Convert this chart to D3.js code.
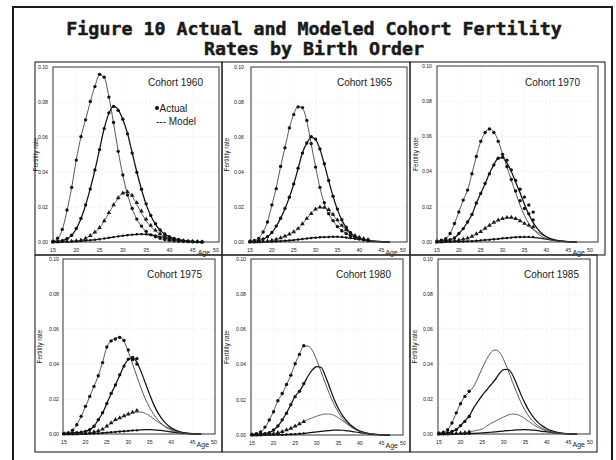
<!DOCTYPE html>
<html><head><meta charset="utf-8">
<script src="https://cdn.jsdelivr.net/npm/d3@7"></script>
<style>body{margin:0;background:#fff}svg{display:block}</style>
</head><body>
<svg id="c" width="616" height="460"></svg>
<script>
// ---------------- data ----------------
const ages = [15,16,17,18,19,20,21,22,23,24,25,26,27,28,29,30,31,32,33,34,35,36,37,38,39,40,41,42,43,44,45,46,47];
const xTicks = [15,20,25,30,35,40,45,50];
const yTicks = [0,0.02,0.04,0.06,0.08,0.10];
const yTickLabels = ["0.00","0.02","0.04","0.06","0.08","0.10"];
const cohorts = ["1960","1965","1970","1975","1980","1985"];
const lastObservedAge = [47,42,37,32,27,22];

// model curves, birth orders 1-4, ages 15..47
const model1960 = [
 [0.0005,0.002,0.007,0.018,0.031,0.047,0.060,0.070,0.080,0.089,0.0955,0.094,0.083,0.068,0.052,0.038,0.027,0.019,0.013,0.009,0.006,0.004,0.003,0.002,0.0014,0.001,0.0007,0.0005,0.0003,0.0002,0.0001,0.0001,0],
 [0.0001,0.0003,0.0008,0.0018,0.0038,0.0076,0.0133,0.021,0.0305,0.041,0.053,0.065,0.0735,0.0777,0.0755,0.070,0.062,0.051,0.040,0.030,0.0215,0.015,0.0102,0.0068,0.0045,0.003,0.002,0.0013,0.0008,0.0005,0.0003,0.0002,0.0001],
 [0,0.0001,0.0002,0.0003,0.0004,0.0006,0.001,0.002,0.0035,0.0055,0.008,0.012,0.0165,0.021,0.025,0.028,0.0285,0.026,0.0215,0.0165,0.012,0.0088,0.0063,0.0045,0.0032,0.0022,0.0015,0.001,0.0007,0.0004,0.0003,0.0002,0.0001],
 [0,0.0001,0.0001,0.0002,0.0003,0.0004,0.0006,0.0008,0.001,0.0013,0.0016,0.002,0.0024,0.0028,0.0032,0.0036,0.0039,0.0042,0.0044,0.0045,0.0044,0.0041,0.0036,0.003,0.0025,0.0019,0.0014,0.0009,0.0006,0.0004,0.0002,0.0001,0]
];
const model1965 = [
 [0.0004,0.0009,0.0022,0.0058,0.0115,0.021,0.031,0.043,0.054,0.065,0.073,0.0775,0.0765,0.069,0.056,0.043,0.031,0.022,0.016,0.0122,0.0088,0.0065,0.0048,0.0035,0.0025,0.0017,0.0012,0.0008,0.0005,0.0003,0.0002,0.0001,0],
 [0.0001,0.0003,0.0008,0.0016,0.003,0.0053,0.009,0.0135,0.019,0.0255,0.033,0.042,0.051,0.0565,0.0598,0.0585,0.053,0.0445,0.035,0.026,0.0185,0.0125,0.0082,0.0052,0.0032,0.002,0.0012,0.0007,0.0004,0.0002,0.0001,0.0001,0],
 [0,0,0.0001,0.0003,0.0005,0.0009,0.0015,0.0023,0.0033,0.0045,0.0057,0.0076,0.0102,0.0135,0.0163,0.0187,0.0198,0.0196,0.0182,0.0155,0.0122,0.009,0.0066,0.0047,0.0034,0.0025,0.0018,0.0012,0.0008,0.0005,0.0003,0.0002,0.0001],
 [0,0,0.0001,0.0001,0.0002,0.0002,0.0003,0.0005,0.0007,0.0009,0.0011,0.0014,0.0017,0.002,0.0023,0.0025,0.0027,0.0028,0.0029,0.003,0.003,0.0028,0.0025,0.0022,0.0018,0.0015,0.0011,0.0008,0.0005,0.0004,0.0002,0.0001,0]
];
const model1970 = [
 [0.0005,0.001,0.002,0.0048,0.0105,0.0171,0.0238,0.0295,0.039,0.0486,0.057,0.062,0.0644,0.0625,0.0575,0.050,0.0425,0.035,0.028,0.021,0.015,0.0105,0.0072,0.0048,0.0031,0.002,0.0012,0.0007,0.0004,0.0002,0.0001,0.0001,0],
 [0.0001,0.0005,0.0008,0.0013,0.0023,0.0048,0.0076,0.0114,0.0156,0.022,0.0276,0.033,0.039,0.0438,0.0477,0.048,0.045,0.040,0.034,0.028,0.0215,0.0158,0.011,0.0074,0.0048,0.003,0.0018,0.0011,0.0006,0.0003,0.0002,0.0001,0],
 [0,0.0001,0.0002,0.0004,0.0007,0.0011,0.0016,0.0022,0.0032,0.0045,0.006,0.0076,0.0095,0.011,0.0124,0.0133,0.0138,0.0139,0.0134,0.0122,0.0106,0.0088,0.0071,0.0056,0.0042,0.003,0.002,0.0013,0.0008,0.0005,0.0003,0.0002,0.0001],
 [0,0,0.0001,0.0001,0.0002,0.0002,0.0003,0.0004,0.0005,0.0007,0.0009,0.0011,0.0013,0.0016,0.0018,0.0021,0.0023,0.0025,0.0027,0.0028,0.0028,0.0028,0.0026,0.0024,0.002,0.0016,0.0012,0.0009,0.0006,0.0004,0.0002,0.0001,0]
];
const model1975 = [
 [0.0003,0.0006,0.0022,0.0053,0.0101,0.0155,0.0215,0.0272,0.0333,0.041,0.0497,0.0532,0.0545,0.0555,0.053,0.047,0.040,0.033,0.026,0.020,0.015,0.011,0.0078,0.0053,0.0035,0.0022,0.0013,0.0008,0.0004,0.0002,0.0001,0.0001,0],
 [0.0002,0.0004,0.0006,0.0008,0.001,0.0015,0.0025,0.0044,0.0082,0.012,0.0175,0.023,0.028,0.0335,0.039,0.0425,0.0435,0.041,0.0355,0.029,0.0225,0.0165,0.0118,0.0082,0.0055,0.0035,0.0022,0.0013,0.0007,0.0004,0.0002,0.0001,0],
 [0,0,0.0001,0.0001,0.0002,0.0004,0.0007,0.0012,0.0019,0.0028,0.0045,0.0062,0.0078,0.0092,0.0104,0.0113,0.012,0.0125,0.0125,0.0118,0.0103,0.0085,0.0068,0.0052,0.0039,0.0028,0.0019,0.0013,0.0008,0.0005,0.0003,0.0001,0],
 [0,0,0,0.0001,0.0001,0.0001,0.0002,0.0003,0.0004,0.0006,0.0008,0.001,0.0012,0.0014,0.0016,0.0018,0.002,0.0022,0.0024,0.0025,0.0025,0.0024,0.0022,0.0019,0.0016,0.0012,0.0009,0.0006,0.0004,0.0002,0.0001,0.0001,0]
];
const model1980 = [
 [0.0003,0.0007,0.0018,0.0042,0.0085,0.0135,0.0195,0.0235,0.0285,0.034,0.0405,0.046,0.0505,0.0505,0.048,0.0425,0.036,0.0295,0.023,0.0175,0.013,0.0093,0.0066,0.0045,0.003,0.0019,0.0012,0.0007,0.0004,0.0002,0.0001,0.0001,0],
 [0.0001,0.0002,0.0005,0.0008,0.0013,0.0028,0.005,0.0085,0.0125,0.0172,0.022,0.0248,0.029,0.0335,0.037,0.0388,0.0385,0.0335,0.027,0.0205,0.0152,0.011,0.0078,0.0054,0.0036,0.0023,0.0014,0.0008,0.0004,0.0002,0.0001,0,0],
 [0,0,0.0001,0.0003,0.0005,0.0008,0.0013,0.0019,0.0028,0.0038,0.005,0.0063,0.0076,0.0088,0.0098,0.0107,0.0115,0.0119,0.0119,0.0112,0.0098,0.0081,0.0063,0.0047,0.0034,0.0024,0.0016,0.001,0.0006,0.0003,0.0002,0.0001,0],
 [0,0,0,0.0001,0.0001,0.0001,0.0002,0.0002,0.0003,0.0004,0.0005,0.0007,0.0009,0.0012,0.0015,0.0018,0.002,0.0023,0.0025,0.0027,0.0028,0.0027,0.0024,0.0021,0.0017,0.0013,0.001,0.0007,0.0005,0.0003,0.0002,0.0001,0]
];
const model1985 = [
 [0.0004,0.001,0.0025,0.0063,0.012,0.0175,0.0215,0.0242,0.027,0.032,0.0375,0.0425,0.0465,0.048,0.0468,0.0425,0.0365,0.030,0.0238,0.018,0.0133,0.0095,0.0067,0.0047,0.0032,0.0021,0.0013,0.0008,0.0005,0.0003,0.0002,0.0001,0],
 [0.0001,0.0003,0.0007,0.0014,0.0025,0.0048,0.0075,0.0102,0.0148,0.0185,0.022,0.025,0.028,0.031,0.0345,0.0368,0.037,0.034,0.0285,0.0225,0.0172,0.0127,0.0092,0.0065,0.0045,0.003,0.0019,0.0012,0.0007,0.0004,0.0002,0.0001,0],
 [0,0,0.0001,0.0002,0.0003,0.0005,0.0008,0.0012,0.0017,0.0022,0.0028,0.0045,0.006,0.0072,0.0085,0.0098,0.0108,0.0114,0.0112,0.0102,0.0086,0.0068,0.0051,0.0037,0.0026,0.0017,0.0011,0.0007,0.0004,0.0002,0.0001,0,0],
 [0,0,0,0,0.0001,0.0001,0.0001,0.0002,0.0003,0.0005,0.0006,0.0008,0.001,0.0012,0.0015,0.0017,0.0019,0.0021,0.0023,0.0024,0.0025,0.0024,0.0022,0.0019,0.0015,0.0012,0.0009,0.0006,0.0004,0.0002,0.0001,0,0]
];

// actual (observed) rates, birth orders 1-4, ages 15..lastObservedAge
const actual1960 = [
 [0.0005,0.0022,0.0072,0.0183,0.0312,0.0468,0.0602,0.0698,0.0803,0.0888,0.0958,0.0942,0.0828,0.0683,0.0518,0.0383,0.0268,0.0192,0.0131,0.0091,0.0061,0.0041,0.003,0.0021,0.0014,0.001,0.0007,0.0005,0.0003,0.0002,0.0001,0.0001,0],
 [0.0001,0.0003,0.0008,0.0019,0.0039,0.0077,0.0135,0.0212,0.0303,0.0412,0.0528,0.0648,0.0738,0.0775,0.0752,0.0702,0.0618,0.0508,0.0398,0.0302,0.0218,0.0152,0.0104,0.0069,0.0046,0.003,0.002,0.0013,0.0008,0.0005,0.0003,0.0002,0.0001],
 [0,0.0001,0.0002,0.0003,0.0004,0.0006,0.001,0.0021,0.0036,0.0056,0.0082,0.0121,0.0167,0.0212,0.0252,0.0279,0.0286,0.0266,0.0225,0.0176,0.0131,0.0095,0.0067,0.0047,0.0033,0.0023,0.0015,0.001,0.0007,0.0004,0.0003,0.0002,0.0001],
 [0,0.0001,0.0001,0.0002,0.0003,0.0004,0.0006,0.0008,0.001,0.0013,0.0016,0.002,0.0024,0.0028,0.0032,0.0036,0.0039,0.0042,0.0044,0.0045,0.0044,0.0041,0.0037,0.0031,0.0025,0.0019,0.0014,0.001,0.0006,0.0004,0.0002,0.0001,0.0001]
];
const actual1965 = [
 [0.0004,0.0009,0.0021,0.0057,0.0114,0.0212,0.0305,0.0432,0.0538,0.0652,0.0728,0.0772,0.0768,0.0695,0.0562,0.0428,0.0312,0.0224,0.0162,0.0122,0.0088,0.0064,0.0048,0.0035,0.0025,0.0018,0.0013,0.0008],
 [0.0001,0.0003,0.0008,0.0017,0.003,0.0054,0.0091,0.0136,0.0192,0.0256,0.0332,0.0422,0.0508,0.0566,0.0602,0.0588,0.0532,0.0447,0.0352,0.0262,0.0188,0.0127,0.0084,0.0053,0.0033,0.0021,0.0013,0.0008],
 [0,0,0.0001,0.0003,0.0005,0.0009,0.0015,0.0023,0.0033,0.0045,0.0058,0.0077,0.0103,0.0134,0.0162,0.0188,0.0199,0.0197,0.0185,0.0158,0.0126,0.0094,0.0069,0.0049,0.0036,0.0026,0.0019,0.0013],
 [0,0,0.0001,0.0001,0.0002,0.0002,0.0003,0.0005,0.0007,0.0009,0.0011,0.0014,0.0017,0.002,0.0023,0.0025,0.0027,0.0028,0.0029,0.003,0.003,0.0029,0.0026,0.0023,0.0019,0.0016,0.0012,0.0009]
];
const actual1970 = [
 [0.0005,0.001,0.0019,0.0048,0.0105,0.0171,0.0238,0.0295,0.0388,0.0486,0.0572,0.0622,0.0642,0.0622,0.0572,0.0498,0.0428,0.0355,0.029,0.0235,0.019,0.016,0.0125],
 [0.0001,0.0005,0.0008,0.0013,0.0023,0.0048,0.0076,0.0114,0.0156,0.0222,0.0276,0.0332,0.0388,0.0438,0.0476,0.0482,0.0465,0.041,0.035,0.030,0.0255,0.021,0.017],
 [0,0.0001,0.0002,0.0004,0.0007,0.0011,0.0016,0.0022,0.0032,0.0046,0.0058,0.0077,0.0094,0.0111,0.0124,0.0133,0.0139,0.014,0.0133,0.012,0.0105,0.0095,0.0086],
 [0,0,0.0001,0.0001,0.0002,0.0002,0.0003,0.0004,0.0005,0.0007,0.0009,0.0011,0.0013,0.0016,0.0018,0.0021,0.0023,0.0025,0.0027,0.0028,0.0029,0.0029,0.0028]
];
const actual1975 = [
 [0.0003,0.0006,0.0022,0.0053,0.0101,0.0158,0.0215,0.0272,0.0333,0.0408,0.0497,0.0532,0.0543,0.0552,0.0535,0.048,0.0425,0.040],
 [0.0002,0.0004,0.0006,0.0008,0.001,0.0015,0.0025,0.0044,0.0082,0.0122,0.0175,0.0232,0.028,0.0338,0.0388,0.0428,0.0438,0.043],
 [0,0,0.0001,0.0001,0.0002,0.0004,0.0007,0.0012,0.0018,0.0027,0.0045,0.0063,0.0082,0.0092,0.0103,0.0113,0.0124,0.0134],
 [0,0,0,0.0001,0.0001,0.0001,0.0002,0.0003,0.0004,0.0006,0.0008,0.001,0.0012,0.0014,0.0016,0.0018,0.002,0.0021]
];
const actual1980 = [
 [0.0003,0.0008,0.0018,0.0045,0.0085,0.0132,0.0195,0.0236,0.0287,0.034,0.0405,0.0458,0.0507],
 [0.0001,0.0002,0.0005,0.0008,0.0013,0.0028,0.0051,0.0086,0.0124,0.0172,0.0218,0.0248,0.0292],
 [0,0,0.0001,0.0003,0.0005,0.0008,0.0013,0.0019,0.0029,0.0038,0.005,0.0063,0.0076],
 [0,0,0,0.0001,0.0001,0.0001,0.0002,0.0002,0.0003,0.0004,0.0005,0.0007,0.0009]
];
const actual1985 = [
 [0.0004,0.001,0.0025,0.0063,0.0121,0.0173,0.0215,0.0244],
 [0.0001,0.0003,0.0007,0.0014,0.0025,0.0048,0.0072,0.01],
 [0,0,0.0001,0.0002,0.0003,0.0005,0.0008,0.0012],
 [0,0,0,0,0.0001,0.0001,0.0001,0.0002]
];
const models = [model1960, model1965, model1970, model1975, model1980, model1985];
const actuals = [actual1960, actual1965, actual1970, actual1975, actual1980, actual1985];

// ---------------- layout ----------------
const layout = [
 {frame:[35,62,222,255], box:[53,67,219,242], xr:[53,216], yr:[242,67], gap:5, ylab:38, cx:203, cy:86},
 {frame:[222,62,410,255], box:[251,67,407,242], xr:[250,403], yr:[242,67], gap:7, ylab:229, cx:392, cy:86},
 {frame:[410,62,605,255], box:[437,66,598,242], xr:[437,590], yr:[242,66], gap:5, ylab:418, cx:580, cy:86},
 {frame:[35,255,222,452], box:[63,259,215,434], xr:[64,214], yr:[434,259], gap:4, ylab:42, cx:202, cy:278},
 {frame:[222,255,410,452], box:[251,259,403,435], xr:[252,403], yr:[435,259], gap:5, ylab:229, cx:391, cy:278},
 {frame:[410,255,597,452], box:[438,259,590,434], xr:[439,590], yr:[434,259], gap:5, ylab:417, cx:579, cy:278}
];
const lineStyle = [
 {stroke:"#444", w:0.9},
 {stroke:"#111", w:1.25},
 {stroke:"#555", w:0.9},
 {stroke:"#111", w:1.25}
];
const FONT = "'Liberation Sans', Arial, sans-serif";

const svg = d3.select("#c");
svg.append("rect").attr("width",616).attr("height",460).attr("fill","#fff");

// outer frame
svg.append("rect").attr("x",13).attr("y",7).attr("width",599).attr("height",460)
  .attr("fill","none").attr("stroke","#1a1a1a").attr("stroke-width",2);

// title
const title = svg.append("text").attr("text-anchor","middle")
  .attr("font-family","'DejaVu Sans Mono', monospace").attr("font-weight","bold")
  .attr("font-size",18.3).attr("fill","#1a1a1a")
  .attr("stroke","#1a1a1a").attr("stroke-width",0.5);
title.append("tspan").attr("x",314).attr("y",35).text("Figure 10 Actual and Modeled Cohort Fertility");
title.append("tspan").attr("x",314).attr("y",55).text("Rates by Birth Order");

layout.forEach((L, i) => {
  const g = svg.append("g");
  const x = d3.scaleLinear().domain([15,50]).range(L.xr);
  const y = d3.scaleLinear().domain([0,0.10]).range(L.yr);
  const [bx0,by0,bx1,by1] = L.box;

  // panel frame
  g.append("rect").attr("x",L.frame[0]).attr("y",L.frame[1])
    .attr("width",L.frame[2]-L.frame[0]).attr("height",L.frame[3]-L.frame[1])
    .attr("fill","none").attr("stroke","#222").attr("stroke-width",1.1);

  // faint gridlines
  g.selectAll(".gy").data(yTicks.slice(1,-1)).join("line")
    .attr("x1",bx0).attr("x2",bx1).attr("y1",d=>y(d)).attr("y2",d=>y(d))
    .attr("stroke","#e2e2e2").attr("stroke-width",0.6).attr("stroke-dasharray","2,2");
  g.selectAll(".gx").data(xTicks.slice(1,-1)).join("line")
    .attr("y1",by0).attr("y2",by1).attr("x1",d=>x(d)).attr("x2",d=>x(d))
    .attr("stroke","#ececec").attr("stroke-width",0.6).attr("stroke-dasharray","2,2");

  // plot box
  g.append("rect").attr("x",bx0).attr("y",by0).attr("width",bx1-bx0).attr("height",by1-by0)
    .attr("fill","none").attr("stroke","#333").attr("stroke-width",1);

  // y tick labels
  g.selectAll(".yt").data(yTicks).join("text")
    .attr("x",bx0-L.gap).attr("y",d=>y(d)).attr("dy","0.35em")
    .attr("text-anchor","end").attr("font-family",FONT).attr("font-size",5.2)
    .attr("fill","#222").text((d,j)=>yTickLabels[j]);
  // x tick labels
  g.selectAll(".xt").data(xTicks).join("text")
    .attr("x",d=>x(d)).attr("y",by1+10).attr("text-anchor","middle")
    .attr("font-family",FONT).attr("font-size",5.2).attr("fill","#222").text(d=>d);
  g.append("text").attr("x",x(47.4)).attr("y",by1+12.5).attr("text-anchor","middle")
    .attr("font-family",FONT).attr("font-size",7).attr("fill","#222").text("Age");
  g.append("text").attr("transform",`translate(${L.ylab},${(by0+by1)/2}) rotate(-90)`)
    .attr("text-anchor","middle").attr("font-family",FONT).attr("font-size",6.5)
    .attr("fill","#222").text("Fertility rate");

  // model lines
  const line = d3.line().x(d=>x(d[0])).y(d=>y(d[1])).curve(d3.curveMonotoneX);
  [3,2,1,0].forEach(o => {
    const pts = ages.map((a,k)=>[a, models[i][o][k]]);
    g.append("path").attr("d",line(pts)).attr("fill","none")
      .attr("stroke",lineStyle[o].stroke).attr("stroke-width",lineStyle[o].w);
  });

  // actual markers
  [3,2,1,0].forEach(o => {
    const pts = actuals[i][o].map((v,k)=>[ages[k], v]);
    if (o === 2) {
      g.selectAll(null).data(pts).join("path")
        .attr("transform",d=>`translate(${x(d[0])},${y(d[1])})`)
        .attr("d", d3.symbol().type(d3.symbolTriangle).size(9))
        .attr("fill","#1a1a1a");
    } else {
      g.selectAll(null).data(pts).join("circle")
        .attr("cx",d=>x(d[0])).attr("cy",d=>y(d[1]))
        .attr("r", o===3 ? 1.2 : 1.7).attr("fill","#111");
    }
  });

  // cohort label
  g.append("text").attr("x",L.cx).attr("y",L.cy).attr("text-anchor","end")
    .attr("font-family",FONT).attr("font-size",10).attr("fill","#1a1a1a")
    .text("Cohort " + cohorts[i]);

  // legend in first panel
  if (i === 0) {
    g.append("circle").attr("cx",157).attr("cy",108).attr("r",2).attr("fill","#111");
    g.append("text").attr("x",159.5).attr("y",111.5).attr("font-family",FONT)
      .attr("font-size",10).attr("fill","#1a1a1a").text("Actual");
    g.append("text").attr("x",156).attr("y",124.5).attr("font-family",FONT)
      .attr("font-size",10).attr("fill","#1a1a1a").text("--- Model");
  }
});
</script>
</body></html>
